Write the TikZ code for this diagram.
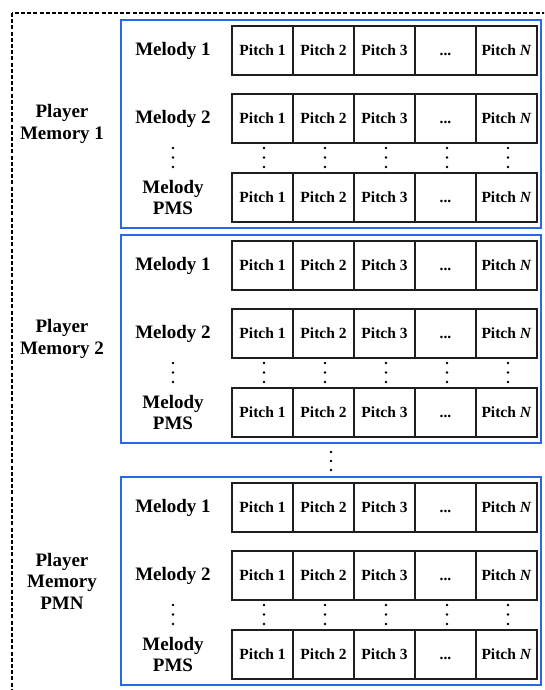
\documentclass[tikz,border=0pt]{standalone}
\usepackage{fontspec}
\setmainfont{Liberation Serif}
\definecolor{memblue}{RGB}{38,105,232}
\definecolor{celledge}{RGB}{30,30,30}
\begin{document}
\begin{tikzpicture}[x=1pt,y=-1pt,
  cell/.style={draw=celledge, line width=1.6pt, minimum width=61pt, minimum height=49pt, inner sep=0pt,
    font=\fontsize{15.5}{18}\selectfont\bfseries},
  lbl/.style={font=\fontsize{19}{21.5}\selectfont\bfseries, align=center, inner sep=0pt},
  membox/.style={draw=memblue, line width=1.9pt, minimum width=420pt, minimum height=208pt, inner sep=0pt},
  vdot/.style={circle, fill=black, inner sep=0pt, minimum size=2.8pt},
  outer/.style={line width=1.6pt, dash pattern=on 4pt off 2.2pt}]
\useasboundingbox (0,0) rectangle (544,690);
\begin{scope}
  \clip (0,0) rectangle (544,690);
  \draw[outer] (12,13) rectangle (620,760);
\end{scope}
\foreach \m/\o/\name in {1/0/{Player\\Memory 1}, 2/215/{Player\\Memory 2}, 3/457/{Player\\Memory\\PMN}} {
  \node[membox] (box\m) at (331,124+\o) {};
  \node[lbl] (pm\m) at (62,124+\o) {\name};
  \foreach \r/\y/\mel in {1/50.5/{Melody 1}, 2/118.5/{Melody 2}, 3/197.5/{Melody\\PMS}} {
    \node[lbl] (mel\m\r) at (173,\y+\o) {\mel};
    \foreach \c/\t in {1/{Pitch 1}, 2/{Pitch 2}, 3/{Pitch 3}, 4/{\vphantom{Pitch}...}, 5/{Pitch \textit{N}}} {
      \node[cell] (c\m\r\c) at (262.5+61*\c-61,\y+\o) {\t};
    }
  }
  \foreach \x [count=\k] in {173,264,325,386,447,508} {
    \node[vdot] (da\m\k) at (\x,148+\o) {};
    \node[vdot] (db\m\k) at (\x,157.5+\o) {};
    \node[vdot] (dc\m\k) at (\x,167+\o) {};
  }
}
\node[vdot] (g1) at (331,452) {};
\node[vdot] (g2) at (331,461) {};
\node[vdot] (g3) at (331,470) {};
\end{tikzpicture}
\end{document}
